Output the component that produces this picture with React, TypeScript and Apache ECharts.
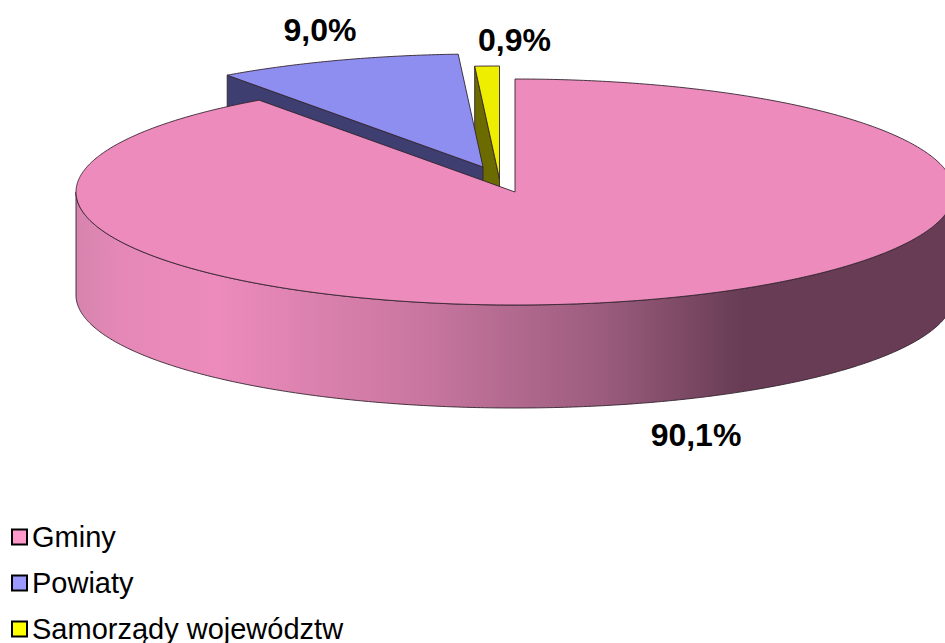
import React, { useEffect, useRef } from "react";
import * as echarts from "echarts";

const categories = ["Gminy", "Powiaty", "Samorządy województw"];
const shares = [90.1, 9.0, 0.9];

const topColors = ["#EC8BBC", "#8E8EF0", "#EEEE00"];
const sideColors = ["#673C54", "#3E3F70", "#6B6B00"];
const swatchColors = ["#FF99CC", "#9999FF", "#FFFF00"];
const explodeX = [0, -32, -15.5];
const explodeY = [0, -25, -13];
const labelX = [696, 320, 514.5];
const labelY = [435, 30, 40];
const stacking = [3, 2, 1];

const CX = 515;
const CY = 192;
const RX = 439;
const RY = 113;
const DEPTH = 103;
const EDGE = "#33242f";

const wallGradient = () =>
  new echarts.graphic.LinearGradient(
    76,
    0,
    954,
    0,
    [
      { offset: 0, color: "#D684AE" },
      { offset: 0.05, color: "#E588B7" },
      { offset: 0.16, color: "#EC8BBC" },
      { offset: 0.4, color: "#C8769F" },
      { offset: 0.6, color: "#9B5C7D" },
      { offset: 0.76, color: "#673C54" },
      { offset: 1, color: "#673C54" },
    ],
    true,
  );

// Point on the rim of the tilted disc; angle runs clockwise from twelve o'clock.
const rim = (deg: number, ox: number, oy: number, drop = 0): number[] => {
  const a = (deg * Math.PI) / 180;
  return [CX + ox + RX * Math.sin(a), CY + oy - RY * Math.cos(a) + drop];
};

const sweep = (from: number, to: number): number[] => {
  const out: number[] = [];
  const n = Math.max(2, Math.ceil((to - from) * 2));
  for (let i = 0; i <= n; i++) out.push(from + ((to - from) * i) / n);
  return out;
};

const total = shares.reduce((s, v) => s + v, 0);
const startAngle = (idx: number) =>
  (shares.slice(0, idx).reduce((s, v) => s + v, 0) / total) * 360;

const sliceRenderer = (idx: number) => (_params: unknown, api: any) => {
  const from = startAngle(idx);
  const to = from + (api.value(0) / total) * 360;
  const ox = explodeX[idx];
  const oy = explodeY[idx];
  const apex = [CX + ox, CY + oy];
  const apexLow = [apex[0], apex[1] + DEPTH];
  const lineStyle = { stroke: EDGE, lineWidth: 0.9, lineJoin: "round" };
  const children: any[] = [];

  // Cut face on the clockwise-start side of small slices, seen through the gap.
  if (idx > 0) {
    const p = rim(from, ox, oy);
    children.push({
      type: "polygon",
      shape: { points: [p, apex, apexLow, [p[0], p[1] + DEPTH]] },
      style: { fill: sideColors[idx], ...lineStyle },
    });
  }

  // Outer wall, only the part of the rim that faces the viewer.
  const wallFrom = Math.max(from, 90);
  const wallTo = Math.min(to, 270);
  if (wallTo > wallFrom) {
    const angles = sweep(wallFrom, wallTo);
    const upper = angles.map((d) => rim(d, ox, oy));
    const lower = angles.map((d) => rim(d, ox, oy, DEPTH)).reverse();
    children.push({
      type: "polygon",
      shape: { points: [...upper, ...lower] },
      style: { fill: wallGradient(), ...lineStyle },
    });
  }

  // Top face.
  children.push({
    type: "polygon",
    shape: { points: [apex, ...sweep(from, to).map((d) => rim(d, ox, oy))] },
    style: { fill: topColors[idx], ...lineStyle },
  });

  // Value label.
  children.push({
    type: "text",
    style: {
      x: labelX[idx],
      y: labelY[idx],
      text: api.value(0).toFixed(1).replace(".", ",") + "%",
      fill: "#000",
      font: "bold 32px 'Liberation Sans', Arial, sans-serif",
      align: "center",
      verticalAlign: "middle",
    },
  });

  return { type: "group", children };
};

export default function App() {
  const ref = useRef<HTMLDivElement>(null);

  useEffect(() => {
    const chart = echarts.init(ref.current!, undefined, { renderer: "svg" });
    chart.setOption({
      animation: false,
      backgroundColor: "#fff",
      legend: {
        orient: "vertical",
        left: 11,
        top: 520,
        height: 240,
        padding: 0,
        itemWidth: 15,
        itemHeight: 15,
        itemGap: 12,
        selectedMode: false,
        textStyle: {
          fontFamily: "'Liberation Sans', Arial, sans-serif",
          fontSize: 29,
          lineHeight: 34,
          color: "#000",
          padding: [0, 0, 0, 0],
        },
        data: categories.map((name, i) => ({
          name,
          icon: "rect",
          itemStyle: {
            color: swatchColors[i],
            borderColor: "#000",
            borderWidth: 2,
          },
        })),
      },
      series: categories.map((name, i) => ({
        type: "custom",
        name,
        coordinateSystem: "none",
        z: stacking[i],
        silent: true,
        data: [[shares[i]]],
        renderItem: sliceRenderer(i),
      })),
    });
    return () => chart.dispose();
  }, []);

  return (
    <div
      ref={ref}
      style={{ position: "fixed", left: 0, top: 0, width: 945, height: 643 }}
    />
  );
}
